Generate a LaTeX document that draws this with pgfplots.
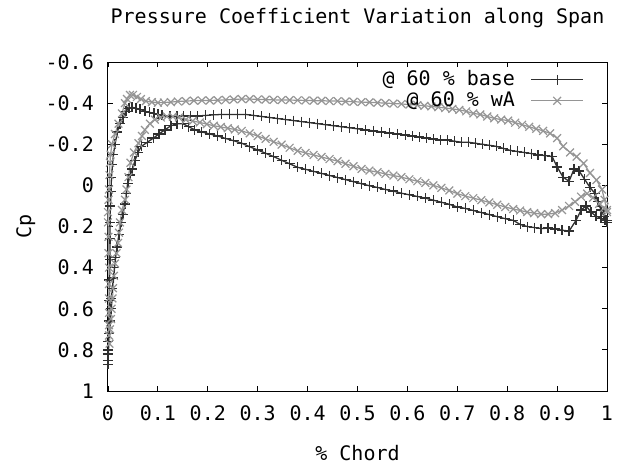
\documentclass[border=0pt]{standalone}
\usepackage{fontspec}
\setmainfont{DejaVu Sans Mono}
\usepackage{pgfplots}
\pgfplotsset{compat=1.18}
\definecolor{cdark}{HTML}{303030}
\definecolor{clight}{HTML}{959595}
\begin{document}
\fontsize{20bp}{24bp}\selectfont
\begin{tikzpicture}
\begin{axis}[
  name=ax,
  scale only axis,
  width=499bp, height=329bp,
  xmin=0, xmax=1, ymin=-0.6, ymax=1,
  y dir=reverse,
  clip=false,
  axis line style={line width=1bp},
  tick align=inside,
  major tick length=5bp,
  every tick/.style={line width=0.8bp, black},
  xtick={0,0.1,0.2,0.3,0.4,0.5,0.6,0.7,0.8,0.9,1},
  xticklabels={0,0.1,0.2,0.3,0.4,0.5,0.6,0.7,0.8,0.9,1},
  ytick={-0.6,-0.4,-0.2,0,0.2,0.4,0.6,0.8,1},
  yticklabels={-0.6,-0.4,-0.2,0,0.2,0.4,0.6,0.8,1},
  xticklabel style={anchor=center, inner sep=0pt, yshift=-22bp},
  yticklabel style={anchor=east, inner sep=0pt, xshift=-14bp},
  title={Pressure Coefficient Variation along Span},
  title style={at={(axis description cs:0.5,1)}, anchor=center, yshift=38bp},
  xlabel={\% Chord},
  xlabel style={at={(axis description cs:0.5,0)}, anchor=center, yshift=-62bp},
  ylabel={Cp},
  ylabel style={at={(axis description cs:-0.165,0.5)}, anchor=center},
  legend style={draw=none, fill=none, at={(axis description cs:1,1)}, anchor=north east,
    xshift=-20bp, yshift=-5bp, row sep=0bp, nodes={inner sep=1.5bp}},
  legend cell align=right,
  legend plot pos=right,
  legend image code/.code={\path (-14bp,0bp); \draw[mark repeat=2,mark phase=2,#1] plot coordinates {(0bp,0bp)(26bp,0bp)(52bp,0bp)};},
]
\addplot[color=cdark, line width=1.3bp, mark=+, mark size=5bp, mark options={solid, line width=1.3bp}] coordinates {
(1.000,0.17)(0.994,0.15)(0.988,0.12)(0.982,0.08)(0.976,0.04)(0.966,0.01)(0.955,-0.03)(0.944,-0.07)(0.934,-0.08)(0.924,-0.02)(0.912,-0.04)(0.900,-0.09)(0.890,-0.14)
(0.876,-0.145)(0.862,-0.148)(0.848,-0.155)(0.834,-0.16)(0.820,-0.165)(0.806,-0.17)(0.792,-0.18)(0.778,-0.19)(0.764,-0.195)(0.750,-0.20)(0.736,-0.205)(0.722,-0.21)(0.708,-0.21)(0.694,-0.215)(0.680,-0.22)(0.666,-0.22)(0.652,-0.225)(0.638,-0.23)(0.624,-0.235)(0.610,-0.24)(0.596,-0.245)(0.580,-0.25)(0.564,-0.255)(0.548,-0.26)(0.532,-0.265)(0.516,-0.27)(0.500,-0.275)(0.484,-0.28)(0.468,-0.285)(0.452,-0.29)(0.436,-0.295)(0.420,-0.30)(0.404,-0.305)(0.388,-0.31)(0.372,-0.315)(0.356,-0.32)(0.340,-0.325)(0.324,-0.33)(0.308,-0.335)(0.292,-0.34)(0.276,-0.345)(0.260,-0.345)(0.244,-0.345)(0.228,-0.345)(0.212,-0.343)(0.196,-0.34)(0.180,-0.338)(0.166,-0.338)(0.152,-0.338)(0.138,-0.336)(0.124,-0.335)(0.108,-0.34)(0.100,-0.345)(0.092,-0.35)(0.083,-0.355)(0.074,-0.36)(0.064,-0.37)(0.056,-0.375)(0.048,-0.38)(0.042,-0.375)(0.036,-0.36)(0.030,-0.33)(0.024,-0.30)(0.019,-0.26)(0.014,-0.20)(0.011,-0.15)(0.009,-0.10)(0.007,-0.04)(0.006,0.03)(0.005,0.10)(0.004,0.18)(0.004,0.26)(0.004,0.36)(0.003,0.46)(0.003,0.56)(0.002,0.66)(0.001,0.76)(0.000,0.82)(0.000,0.85)(0.000,0.87)
(0.001,0.80)(0.003,0.72)(0.004,0.66)(0.006,0.60)(0.007,0.55)(0.009,0.50)(0.011,0.45)(0.013,0.40)(0.015,0.35)(0.018,0.30)(0.022,0.24)(0.027,0.18)(0.030,0.14)(0.034,0.09)(0.037,0.04)(0.040,-0.01)(0.045,-0.05)(0.049,-0.08)(0.054,-0.12)(0.060,-0.16)(0.067,-0.19)(0.079,-0.21)(0.091,-0.23)(0.102,-0.25)(0.114,-0.27)(0.126,-0.29)(0.138,-0.30)(0.150,-0.30)(0.162,-0.285)(0.174,-0.27)(0.188,-0.26)(0.204,-0.25)
(0.220,-0.24)(0.236,-0.228)(0.252,-0.217)(0.268,-0.205)(0.284,-0.188)(0.300,-0.172)(0.316,-0.156)(0.332,-0.140)(0.348,-0.122)(0.364,-0.105)(0.380,-0.088)(0.396,-0.078)(0.412,-0.068)(0.428,-0.058)(0.444,-0.048)(0.460,-0.038)(0.476,-0.028)(0.492,-0.018)(0.508,-0.008)(0.524,0.002)(0.540,0.010)(0.556,0.020)(0.572,0.028)(0.588,0.038)(0.604,0.046)(0.620,0.054)(0.636,0.062)(0.652,0.072)(0.668,0.082)(0.684,0.092)(0.700,0.105)(0.716,0.112)(0.732,0.122)(0.748,0.132)(0.764,0.142)(0.780,0.152)(0.796,0.162)(0.812,0.170)(0.826,0.190)(0.840,0.200)(0.854,0.205)(0.868,0.210)(0.882,0.208)(0.896,0.212)(0.910,0.218)(0.924,0.222)(0.938,0.17)(0.948,0.12)(0.958,0.10)(0.968,0.13)(0.978,0.15)(0.988,0.16)(0.996,0.17)(1.000,0.18)
};
\addlegendentry{@ 60 \% base}
\addplot[color=clight, line width=1.2bp, mark=x, mark size=5.5bp, mark options={solid, line width=1.2bp}] coordinates {
(1.000,0.12)(0.995,0.07)(0.990,0.02)(0.979,-0.026)(0.966,-0.06)(0.953,-0.107)(0.939,-0.14)(0.926,-0.16)(0.912,-0.19)(0.900,-0.23)(0.886,-0.253)(0.872,-0.265)(0.858,-0.275)(0.844,-0.285)(0.830,-0.295)(0.816,-0.305)(0.802,-0.315)(0.788,-0.32)(0.774,-0.326)(0.760,-0.335)(0.746,-0.345)(0.732,-0.35)(0.718,-0.36)(0.704,-0.367)(0.690,-0.372)(0.676,-0.376)(0.662,-0.38)(0.648,-0.384)(0.634,-0.387)(0.620,-0.39)(0.604,-0.393)(0.588,-0.396)(0.572,-0.398)(0.556,-0.40)(0.540,-0.402)(0.524,-0.404)(0.508,-0.405)(0.492,-0.407)(0.476,-0.408)(0.460,-0.41)(0.444,-0.41)(0.428,-0.412)(0.412,-0.412)(0.396,-0.413)(0.380,-0.414)(0.364,-0.415)(0.348,-0.415)(0.332,-0.416)(0.316,-0.417)(0.300,-0.418)(0.284,-0.42)(0.268,-0.42)(0.252,-0.418)(0.236,-0.416)(0.220,-0.414)(0.204,-0.413)(0.188,-0.413)(0.172,-0.412)(0.156,-0.41)(0.140,-0.408)(0.126,-0.405)(0.112,-0.403)(0.100,-0.402)(0.088,-0.405)(0.076,-0.41)(0.066,-0.42)(0.058,-0.43)(0.050,-0.44)(0.044,-0.44)(0.038,-0.42)(0.034,-0.40)(0.028,-0.35)(0.021,-0.30)(0.014,-0.25)(0.008,-0.20)(0.005,-0.15)(0.004,-0.11)(0.003,-0.05)(0.002,0.02)(0.001,0.07)(0.000,0.13)(0.000,0.18)(0.001,0.25)(0.001,0.33)(0.002,0.40)(0.002,0.48)(0.002,0.55)(0.002,0.62)(0.002,0.68)(0.002,0.73)(0.003,0.77)
(0.004,0.70)(0.006,0.65)(0.007,0.60)(0.009,0.55)(0.010,0.50)(0.012,0.44)(0.014,0.38)(0.017,0.33)(0.020,0.28)(0.022,0.23)(0.024,0.18)(0.028,0.12)(0.034,0.07)(0.037,0.02)(0.041,-0.04)(0.045,-0.11)(0.052,-0.16)(0.061,-0.205)(0.068,-0.24)(0.074,-0.27)(0.084,-0.30)(0.094,-0.32)(0.106,-0.33)(0.118,-0.335)(0.130,-0.334)(0.142,-0.33)(0.156,-0.32)(0.170,-0.313)(0.184,-0.306)(0.198,-0.298)(0.212,-0.29)(0.226,-0.284)(0.240,-0.278)(0.254,-0.272)(0.268,-0.265)(0.284,-0.253)(0.300,-0.24)(0.316,-0.226)(0.332,-0.212)(0.348,-0.198)(0.364,-0.183)(0.380,-0.168)(0.396,-0.158)(0.412,-0.148)(0.428,-0.138)(0.444,-0.128)(0.460,-0.118)(0.476,-0.105)(0.492,-0.093)(0.508,-0.08)(0.524,-0.072)(0.540,-0.064)(0.556,-0.056)(0.572,-0.048)(0.588,-0.04)(0.604,-0.03)(0.620,-0.02)(0.636,-0.012)(0.652,0.0)(0.668,0.012)(0.684,0.025)(0.700,0.04)(0.716,0.052)(0.732,0.062)(0.748,0.072)(0.764,0.083)(0.780,0.094)(0.796,0.105)(0.812,0.115)(0.826,0.122)(0.840,0.13)(0.854,0.135)(0.868,0.14)(0.882,0.14)(0.896,0.135)(0.910,0.12)(0.924,0.10)(0.936,0.08)(0.948,0.055)(0.960,0.04)(0.972,0.06)(0.984,0.09)(0.994,0.11)(1.000,0.13)
};
\addlegendentry{@ 60 \% wA}
\end{axis}
\pgfresetboundingbox
\path[use as bounding box] ([xshift=-108bp,yshift=-78bp]ax.south west) rectangle ([xshift=509bp,yshift=391bp]ax.south west);
\end{tikzpicture}
\end{document}
